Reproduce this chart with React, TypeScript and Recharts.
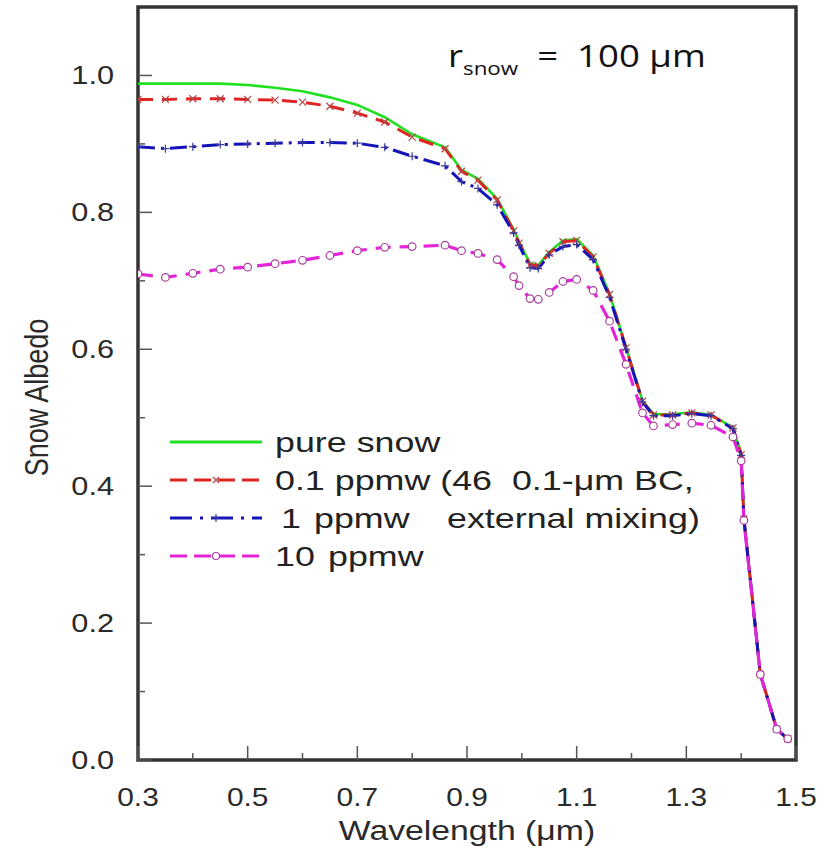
import React from 'react';
import { LineChart, Line, XAxis, YAxis, ReferenceArea, Legend } from 'recharts';

const wavelengths = [0.30, 0.35, 0.40, 0.45, 0.50, 0.55, 0.60, 0.65, 0.70, 0.75, 0.80, 0.86, 0.89, 0.92, 0.955, 0.985, 0.995, 1.015, 1.03, 1.05, 1.075, 1.10, 1.13, 1.16, 1.19, 1.22, 1.24, 1.275, 1.31, 1.345, 1.385, 1.40, 1.405, 1.435, 1.465, 1.485];
const pureSnow = [0.988, 0.988, 0.988, 0.988, 0.986, 0.982, 0.977, 0.968, 0.957, 0.939, 0.914, 0.895, 0.862, 0.849, 0.820, 0.775, 0.757, 0.725, 0.723, 0.742, 0.759, 0.761, 0.737, 0.681, 0.603, 0.525, 0.505, 0.505, 0.508, 0.504, 0.486, 0.447, 0.352, 0.125, 0.045, 0.031];
const bc01 = [0.965, 0.965, 0.966, 0.966, 0.965, 0.964, 0.961, 0.955, 0.945, 0.932, 0.910, 0.893, 0.860, 0.847, 0.818, 0.773, 0.755, 0.723, 0.722, 0.740, 0.757, 0.759, 0.735, 0.680, 0.602, 0.524, 0.504, 0.504, 0.507, 0.504, 0.485, 0.446, 0.352, 0.125, 0.045, 0.031];
const bc1 = [0.896, 0.893, 0.896, 0.899, 0.900, 0.901, 0.902, 0.902, 0.901, 0.895, 0.882, 0.868, 0.845, 0.835, 0.811, 0.770, 0.752, 0.719, 0.718, 0.738, 0.750, 0.753, 0.731, 0.676, 0.600, 0.523, 0.503, 0.503, 0.506, 0.503, 0.484, 0.445, 0.352, 0.125, 0.045, 0.031];
const bc10 = [0.710, 0.705, 0.711, 0.717, 0.720, 0.725, 0.730, 0.737, 0.744, 0.749, 0.750, 0.752, 0.744, 0.740, 0.731, 0.706, 0.693, 0.674, 0.673, 0.683, 0.699, 0.702, 0.686, 0.641, 0.578, 0.507, 0.488, 0.490, 0.492, 0.489, 0.472, 0.437, 0.350, 0.125, 0.045, 0.031];

const xTicks = [0.3, 0.4, 0.5, 0.6, 0.7, 0.8, 0.9, 1.0, 1.1, 1.2, 1.3, 1.4, 1.5];
const xTickLabels = ['0.3', '', '0.5', '', '0.7', '', '0.9', '', '1.1', '', '1.3', '', '1.5'];
const yTicks = [0, 0.1, 0.2, 0.3, 0.4, 0.5, 0.6, 0.7, 0.8, 0.9, 1.0];
const yTickLabels = ['0.0', '', '0.2', '', '0.4', '', '0.6', '', '0.8', '', '1.0'];

const seriesNames = ['pure snow', '0.1 ppmw', '1 ppmw', '10 ppmw'];

const data = wavelengths.map((w, i) => ({
  w,
  pure: pureSnow[i],
  bc01: bc01[i],
  bc1: bc1[i],
  bc10: bc10[i],
}));

const FONT = "'Liberation Sans', Arial, Helvetica, sans-serif";
const GREEN = '#20e020';
const RED = '#e02424';
const BLUE = '#1414b8';
const PINK = '#e424d8';
const AXIS = '#333';

const XTick = (props: any) => {
  const { x, y, index } = props;
  const label = xTickLabels[index] ?? '';
  const major = label !== '';
  return (
    <g>
      <line x1={x} x2={x} y1={y} y2={y - (major ? 14 : 7)} stroke="#555" strokeWidth={1.5} />
      {major && (
        <text transform={`translate(${x},${y + 46}) scale(1.15,1)`} textAnchor="middle" fontSize={26} fontFamily={FONT} fill="#2a2a2a">
          {label}
        </text>
      )}
    </g>
  );
};

const YTick = (props: any) => {
  const { x, y, index } = props;
  const label = yTickLabels[index] ?? '';
  const major = label !== '';
  return (
    <g>
      <line x1={x} x2={x + (major ? 14 : 7)} y1={y} y2={y} stroke="#555" strokeWidth={1.5} />
      {major && (
        <text transform={`translate(${x - 24},${y + 9}) scale(1.18,1)`} textAnchor="end" fontSize={26} fontFamily={FONT} fill="#2a2a2a">
          {label}
        </text>
      )}
    </g>
  );
};

const XLabel = (props: any) => {
  const vb = props.viewBox || {};
  const cx = vb.x + vb.width / 2;
  return (
    <text transform={`translate(${cx},${vb.y + 80}) scale(1.25,1)`} textAnchor="middle" fontSize={27} fontFamily={FONT} fill="#2a2a2a">
      Wavelength (μm)
    </text>
  );
};

const YLabel = (props: any) => {
  const vb = props.viewBox || {};
  const cy = vb.y + vb.height / 2 + 14;
  return (
    <text transform={`translate(48,${cy}) scale(1.25,1) rotate(-90)`} textAnchor="middle" fontSize={27} fontFamily={FONT} fill="#2a2a2a">
      Snow Albedo
    </text>
  );
};

const crossDot = (props: any) => {
  const { cx, cy, index } = props;
  if (cx == null || cy == null) return <g key={`rx${index}`} />;
  const s = 3.5;
  return (
    <path key={`rx${index}`} d={`M${cx - s},${cy - s}L${cx + s},${cy + s}M${cx - s},${cy + s}L${cx + s},${cy - s}`} stroke="#b04848" strokeWidth={1.2} fill="none" />
  );
};

const plusDot = (props: any) => {
  const { cx, cy, index } = props;
  if (cx == null || cy == null) return <g key={`bp${index}`} />;
  const s = 4;
  return (
    <path key={`bp${index}`} d={`M${cx - s},${cy}L${cx + s},${cy}M${cx},${cy - s}L${cx},${cy + s}`} stroke="#3a3a9a" strokeWidth={1.2} fill="none" />
  );
};

const circleDot = (props: any) => {
  const { cx, cy, index } = props;
  if (cx == null || cy == null) return <g key={`pc${index}`} />;
  return <circle key={`pc${index}`} cx={cx} cy={cy} r={3.8} stroke="#a8409e" strokeWidth={1.2} fill="#fff" />;
};

const LegendBox = () => {
  const rows = [442, 480, 518, 556];
  const x0 = 170;
  const x1 = 262;
  const mx = 216;
  const tx = 275;
  const tstyle: any = { whiteSpace: 'pre' };
  const T = (x: number, y: number, s: string, size = 28, sx = 1.28) => (
    <text transform={`translate(${x},${y + 10}) scale(${sx},1)`} fontSize={size} fontFamily={FONT} fill="#222" style={tstyle} xmlSpace="preserve">
      {s}
    </text>
  );
  return (
    <svg width={833} height={851} style={{ position: 'absolute', left: 0, top: 0 }}>
      <line x1={x0} x2={x1} y1={rows[0]} y2={rows[0]} stroke={GREEN} strokeWidth={3} />
      <line x1={x0} x2={x1} y1={rows[1]} y2={rows[1]} stroke={RED} strokeWidth={3} strokeDasharray="17 7" />
      <path d={`M${mx - 3},${rows[1] - 3}L${mx + 3},${rows[1] + 3}M${mx - 3},${rows[1] + 3}L${mx + 3},${rows[1] - 3}`} stroke="#b04848" strokeWidth={1.2} />
      <line x1={x0} x2={x1} y1={rows[2]} y2={rows[2]} stroke={BLUE} strokeWidth={3} strokeDasharray="22 8 3 8" />
      <path d={`M${mx - 4},${rows[2]}L${mx + 4},${rows[2]}M${mx},${rows[2] - 4}L${mx},${rows[2] + 4}`} stroke="#3a3a9a" strokeWidth={1.2} />
      <line x1={x0} x2={x1} y1={rows[3]} y2={rows[3]} stroke={PINK} strokeWidth={3} strokeDasharray="17 7" />
      <circle cx={mx} cy={rows[3]} r={3.5} stroke="#a8409e" strokeWidth={1.2} fill="#fff" />
      {T(tx, rows[0], 'pure snow')}
      {T(tx, rows[1], '0.1 ppmw (46  0.1-μm BC,')}
      {T(281, rows[2], '1')}
      {T(314, rows[2], 'ppmw')}
      {T(447, rows[2], 'external mixing)')}
      {T(tx, rows[3], '10')}
      {T(328, rows[3], 'ppmw')}
      <text transform="translate(448,67) scale(1.18,1)" fontSize={31} fontFamily="'Open Sans', 'Noto Sans', sans-serif" fill="#111" style={tstyle} xmlSpace="preserve">
        r<tspan fontSize={19} dy={8}>snow</tspan><tspan dy={-8}>  =  100 μm</tspan>
      </text>
    </svg>
  );
};

export default function App() {
  return (
    <div style={{ position: 'absolute', left: 0, top: 0, width: 833, height: 851, background: '#fff' }}>
      <LineChart width={833} height={851} data={data} margin={{ top: 7, right: 37, left: 78, bottom: 51 }}>
        <XAxis
          dataKey="w"
          type="number"
          domain={[0.3, 1.5]}
          ticks={xTicks}
          interval={0}
          allowDataOverflow
          axisLine={false}
          tickLine={false}
          tickSize={0}
          tickMargin={0}
          height={40}
          tick={XTick}
          label={{ content: XLabel }}
        />
        <YAxis
          type="number"
          domain={[0, 1.1]}
          ticks={yTicks}
          interval={0}
          allowDataOverflow
          axisLine={false}
          tickLine={false}
          tickSize={0}
          tickMargin={0}
          width={60}
          tick={YTick}
          label={{ content: YLabel }}
        />
        <Line name={seriesNames[0]} type="linear" dataKey="pure" stroke={GREEN} strokeWidth={2.6} dot={false} isAnimationActive={false} />
        <Line name={seriesNames[1]} type="linear" dataKey="bc01" stroke={RED} strokeWidth={3} strokeDasharray="15 9" dot={crossDot} isAnimationActive={false} />
        <Line name={seriesNames[2]} type="linear" dataKey="bc1" stroke={BLUE} strokeWidth={3} strokeDasharray="17 6 3 6" dot={plusDot} isAnimationActive={false} />
        <Line name={seriesNames[3]} type="linear" dataKey="bc10" stroke={PINK} strokeWidth={3.2} strokeDasharray="15 9" dot={circleDot} isAnimationActive={false} />
        <ReferenceArea x1={0.3} x2={1.5} y1={0} y2={1.1} fill="none" stroke={AXIS} strokeWidth={3.5} isAnimationActive={false} />
        <Legend
          layout="vertical"
          align="center"
          verticalAlign="middle"
          width={833}
          height={851}
          wrapperStyle={{ left: 0, top: 0, width: 833, height: 851, pointerEvents: 'none' }}
          content={LegendBox}
        />
      </LineChart>
    </div>
  );
}
